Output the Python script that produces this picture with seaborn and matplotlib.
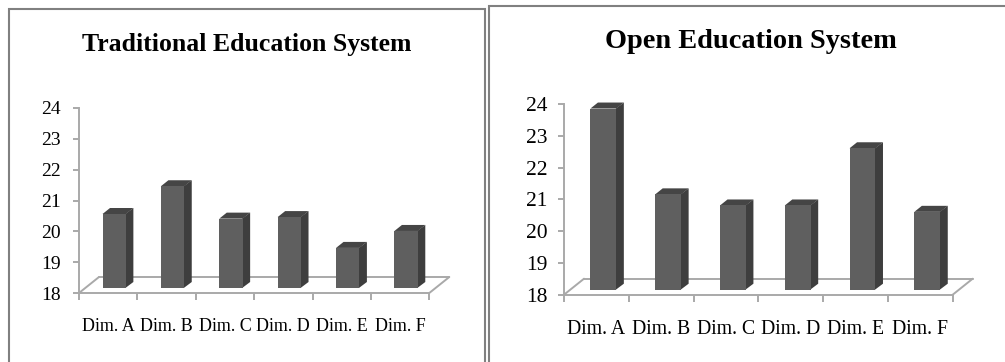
import matplotlib
matplotlib.use('Agg')
import matplotlib.pyplot as plt
from matplotlib.patches import Rectangle
from matplotlib.transforms import offset_copy
import pandas as pd
import seaborn as sns

dims = ['Dim. A', 'Dim. B', 'Dim. C', 'Dim. D', 'Dim. E', 'Dim. F']
traditional = [20.4, 21.3, 20.25, 20.3, 19.3, 19.85]
open_edu = [23.7, 21.0, 20.65, 20.65, 22.45, 20.45]
y_ticks = [18, 19, 20, 21, 22, 23, 24]

W, H = 1005, 362
AXIS = '#a9a9a9'
FRONT = '#5f5f5f'
SIDE = '#3e3e3e'
TOP = '#454545'

sns.set_theme(style='white')
plt.rcParams['font.family'] = ['Liberation Serif', 'DejaVu Serif']

fig = plt.figure(figsize=(W / 100, H / 100), dpi=100, facecolor='white')


def panel(values, box, title, title_xy, title_size, tick_size, xlab_size, xpad, ypad, shift):
    left, top, right, bottom = box
    ax = fig.add_axes([left / W, 1 - bottom / H, (right - left) / W, (bottom - top) / H])
    df = pd.DataFrame({'dim': dims, 'value': values})
    sns.barplot(data=df, x='dim', y='value', color=FRONT, saturation=1, width=0.4, ax=ax)
    ax.set_xlim(-0.5, 5.5)
    ax.set_ylim(18, 24)
    ax.set_xlabel('')
    ax.set_ylabel('')

    # px to data units
    px_x = 6 / (right - left)
    px_y = 6 / (bottom - top)

    # fake 3D faces on each bar, the whole bar sits 5px above the floor edge
    lift = 5 * px_y
    for bar in ax.patches:
        val = bar.get_height() + lift
        base = 18 + lift
        x0 = bar.get_x() + shift * px_x
        x1 = x0 + bar.get_width()
        bar.set_x(x0)
        bar.set_y(base)
        bar.set_height(val - base)
        bar.set_edgecolor('none')
        bar.set_zorder(4)
        bar.set_clip_on(False)
        dx, dy = 7.5 * px_x, 6 * px_y
        seam = 0.5 * px_x
        ax.fill([x1 - seam, x1 + dx, x1 + dx, x1 - seam], [base, base + dy, val + dy, val],
                color=SIDE, lw=0, zorder=3.9, clip_on=False)
        ax.fill([x0, x0 + dx, x1 + dx, x1], [val, val + dy, val + dy, val],
                color=TOP, lw=0, zorder=3.9, clip_on=False)

    # floor of the 3D box
    back = offset_copy(ax.transData, fig=fig, x=20, y=16, units='dots')
    ax.plot([-0.5, 5.5], [18, 18], color=AXIS, lw=1.4, transform=back, clip_on=False, zorder=2)
    ax.plot([-0.5, -0.5 + 20 * px_x], [18, 18 + 16 * px_y], color=AXIS, lw=1.4,
            clip_on=False, zorder=2)
    ax.plot([5.5, 5.5 + 20 * px_x], [18, 18 + 16 * px_y], color=AXIS, lw=1.4,
            clip_on=False, zorder=2)

    sns.despine(ax=ax)
    for side in ['left', 'bottom']:
        ax.spines[side].set_color(AXIS)
        ax.spines[side].set_linewidth(1.4)
    ax.set_yticks(y_ticks)
    ax.set_xticks(range(len(dims)))
    ax.set_xticklabels(dims)
    ax.set_xticks([i - 0.5 for i in range(len(dims) + 1)], minor=True)
    ax.tick_params(axis='x', which='major', length=0, pad=xpad, labelsize=xlab_size, colors='black')
    ax.tick_params(axis='x', which='minor', bottom=True, length=5, width=1.4, color=AXIS)
    ax.tick_params(axis='y', left=True, length=4, width=1.4, color=AXIS, pad=ypad,
                   labelsize=tick_size, labelcolor='black')
    ax.patch.set_alpha(0)
    fig.text(title_xy[0] / W, 1 - title_xy[1] / H, title, ha='center', va='center',
             fontsize=title_size, fontweight='bold', color='black')


panel(traditional, (79, 108, 429.3, 293), 'Traditional Education System', (247, 44.5),
      18.5, 14, 13, 18, 9, 6)
panel(open_edu, (564, 104, 952.7, 294.7), 'Open Education System', (750.7, 42),
      20.4, 15.5, 14.2, 18.5, 8, 7)

# panel frames
for x0, y0, x1, y1 in [(9, 9, 485, 372), (489, 6, 1015, 372)]:
    fig.add_artist(Rectangle((x0 / W, 1 - y1 / H), (x1 - x0) / W, (y1 - y0) / H,
                             fill=False, edgecolor='#808080', lw=1.5,
                             transform=fig.transFigure, zorder=0))

fig.savefig('out.png', dpi=100)
plt.close()
